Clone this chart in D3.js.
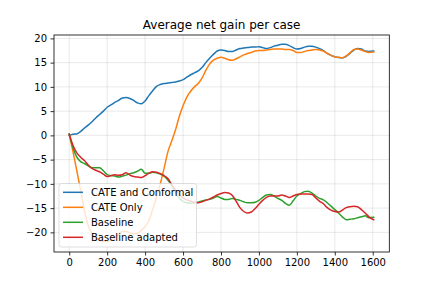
<!DOCTYPE html>
<html>
<head>
<meta charset="utf-8">
<script src="https://cdn.jsdelivr.net/npm/d3@7"></script>
<style>
  html, body { margin: 0; padding: 0; background: #fff; }
  svg { display: block; font-family: "DejaVu Sans", sans-serif; }
</style>
</head>
<body>
<svg id="chart" width="432" height="288"></svg>
<script>
const title = "Average net gain per case";
const seriesNames = ["CATE and Conformal", "CATE Only", "Baseline", "Baseline adapted"];
const seriesColors = ["#1f77b4", "#ff7f0e", "#2ca02c", "#d62728"];
const xTicks = [0, 200, 400, 600, 800, 1000, 1200, 1400, 1600];
const yTicks = [-20, -15, -10, -5, 0, 5, 10, 15, 20];

const xs = [0,20,40,60,80,100,120,140,160,180,200,220,240,260,280,300,320,340,360,380,
  400,420,440,460,480,500,520,540,560,580,600,620,640,660,680,700,720,740,760,780,
  800,820,840,860,880,900,920,940,960,980,1000,1020,1040,1060,1080,1100,1120,1140,1160,1180,
  1200,1220,1240,1260,1280,1300,1320,1340,1360,1380,1400,1420,1440,1460,1480,1500,1520,1540,1560,1580,1605];

const cateConformal = [0.0,0.25,0.3,0.8,1.5,2.1,2.8,3.6,4.3,5.0,5.8,6.3,6.8,7.2,7.7,7.8,7.6,7.2,6.7,6.5,
  7.1,8.2,9.2,10.1,10.5,10.7,10.8,10.9,11.0,11.2,11.5,12.0,12.5,12.9,13.3,14.0,15.0,15.9,16.7,17.4,
  17.6,17.5,17.3,17.3,17.6,17.9,18.0,18.1,18.2,18.2,18.3,18.1,17.9,18.1,18.4,18.6,18.8,18.8,18.5,18.1,
  17.8,17.9,18.2,18.4,18.4,18.2,17.9,17.5,16.9,16.5,16.2,16.05,16.0,16.3,16.9,17.6,17.9,17.8,17.4,17.3,17.4];

const cateOnly = [0.2,-3.4,-7.3,-11.3,-15.4,-18.6,-20.2,-21.2,-21.7,-21.9,-21.9,-21.6,-21.0,-20.4,-19.8,-19.8,-20.1,-20.3,-20.2,-19.6,
  -18.8,-17.6,-15.3,-12.8,-10.0,-6.8,-3.4,-1.2,1.1,3.9,6.1,7.9,9.1,10.0,10.7,11.8,13.4,14.7,15.5,15.9,
  16.1,15.9,15.6,15.5,15.8,16.2,16.6,16.9,17.1,17.4,17.5,17.5,17.6,17.7,17.8,17.8,17.8,17.7,17.7,17.5,
  17.1,17.1,17.3,17.5,17.6,17.7,17.6,17.4,16.9,16.5,16.2,16.1,16.0,16.4,17.0,17.7,17.8,17.6,17.3,17.1,17.2];

const baseline = [0.2,-2.6,-4.5,-5.4,-5.8,-6.3,-6.7,-6.7,-6.7,-7.3,-8.1,-8.3,-8.4,-8.6,-8.4,-8.2,-7.9,-7.7,-7.4,-7.0,
  -7.8,-7.8,-7.6,-7.7,-8.0,-8.4,-9.2,-10.3,-11.8,-12.9,-13.6,-13.9,-14.0,-13.9,-13.8,-13.5,-13.3,-13.2,-12.9,-12.6,
  -12.9,-13.2,-13.2,-13.0,-13.2,-13.4,-13.7,-13.9,-13.9,-13.8,-13.4,-12.8,-12.3,-12.2,-12.5,-13.0,-13.4,-14.0,-14.4,-13.5,
  -12.5,-12.0,-11.6,-11.5,-11.9,-12.5,-13.0,-13.3,-13.9,-14.6,-15.3,-16.0,-16.8,-17.4,-17.3,-17.2,-17.0,-16.8,-16.6,-17.0,-16.9];

const baselineAdapted = [0.3,-2.1,-3.6,-4.5,-5.2,-6.1,-6.8,-7.2,-7.5,-8.0,-8.5,-8.3,-8.1,-8.2,-8.1,-7.7,-8.2,-8.5,-8.6,-8.7,
  -8.3,-7.8,-7.5,-7.6,-7.9,-8.3,-8.9,-10.1,-11.3,-12.2,-12.9,-13.3,-13.6,-13.8,-13.9,-13.7,-13.4,-13.1,-12.7,-12.3,
  -12.0,-11.8,-11.9,-12.4,-13.6,-14.9,-15.7,-16.0,-15.8,-15.1,-14.2,-13.4,-12.8,-12.5,-12.5,-12.5,-12.3,-12.5,-12.8,-12.5,
  -12.2,-12.1,-12.1,-12.1,-12.2,-12.9,-13.6,-14.1,-14.9,-15.4,-15.7,-15.8,-15.4,-14.9,-14.7,-14.6,-14.7,-15.3,-16.0,-16.8,-17.4];

const allSeries = [cateConformal, cateOnly, baseline, baselineAdapted];

const svg = d3.select("#chart");
const L = 54, R = 389.3, T = 35, B = 252;

const x = d3.scaleLinear().domain([-80.3, 1687.3]).range([L, R]);
const y = d3.scaleLinear().domain([-24.05, 20.7]).range([B, T]);
const fmt = v => (v < 0 ? "\u2212" + Math.abs(v) : String(v));

// grid
const grid = svg.append("g");
grid.selectAll(".gx").data(xTicks).join("line")
  .attr("x1", d => x(d)).attr("x2", d => x(d)).attr("y1", T).attr("y2", B)
  .attr("stroke", "#b0b0b0").attr("stroke-opacity", 0.35).attr("stroke-width", 0.8);
grid.selectAll(".gy").data(yTicks).join("line")
  .attr("x1", L).attr("x2", R).attr("y1", d => y(d)).attr("y2", d => y(d))
  .attr("stroke", "#b0b0b0").attr("stroke-opacity", 0.35).attr("stroke-width", 0.8);

// lines
const line = d3.line().x((d, i) => x(xs[i])).y(d => y(d)).curve(d3.curveMonotoneX);
allSeries.forEach((s, k) => {
  svg.append("path").datum(s)
    .attr("d", line).attr("fill", "none")
    .attr("stroke", seriesColors[k]).attr("stroke-width", 1.5)
    .attr("stroke-linejoin", "round").attr("stroke-linecap", "square");
});

// axes
const xAxis = svg.append("g").attr("transform", `translate(0,${B})`)
  .call(d3.axisBottom(x).tickValues(xTicks).tickFormat(fmt).tickSize(3.5).tickPadding(3.5));
const yAxis = svg.append("g").attr("transform", `translate(${L},0)`)
  .call(d3.axisLeft(y).tickValues(yTicks).tickFormat(fmt).tickSize(3.5).tickPadding(3.5));
[xAxis, yAxis].forEach(a => {
  a.select(".domain").remove();
  a.selectAll(".tick line").attr("stroke", "#000").attr("stroke-width", 0.8);
  a.selectAll("text").attr("font-size", "10px").attr("font-family", "DejaVu Sans, sans-serif").attr("fill", "#000");
});

// frame
svg.append("rect").attr("x", L).attr("y", T).attr("width", R - L).attr("height", B - T)
  .attr("fill", "none").attr("stroke", "#000").attr("stroke-width", 0.8);

// title
svg.append("text").attr("x", (L + R) / 2).attr("y", 28.5).attr("text-anchor", "middle")
  .attr("font-size", "12px").attr("fill", "#000").text(title);

// legend
const lg = svg.append("g");
lg.append("rect").attr("x", 59).attr("y", 183.5).attr("width", 137.5).attr("height", 63.5)
  .attr("rx", 2.5).attr("fill", "#fff").attr("fill-opacity", 0.8)
  .attr("stroke", "#cccccc").attr("stroke-opacity", 0.8).attr("stroke-width", 0.8);
seriesNames.forEach((n, k) => {
  const cy = 192.3 + k * 15;
  lg.append("line").attr("x1", 63).attr("x2", 83).attr("y1", cy).attr("y2", cy)
    .attr("stroke", seriesColors[k]).attr("stroke-width", 1.5);
  lg.append("text").attr("x", 91).attr("y", cy + 3.6).attr("font-size", "10px")
    .attr("fill", "#000").text(n);
});
</script>
</body>
</html>
